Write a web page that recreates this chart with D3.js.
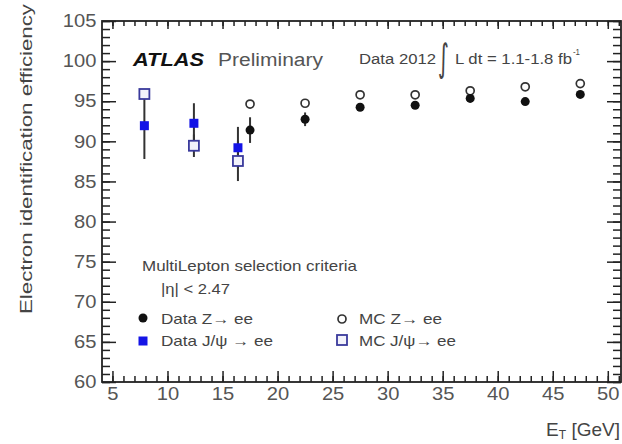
<!DOCTYPE html>
<html>
<head>
<meta charset="utf-8">
<script src="https://cdn.jsdelivr.net/npm/d3@7/dist/d3.min.js"></script>
<style>
  html, body { margin: 0; padding: 0; background: #fff; }
  svg { display: block; font-family: "Liberation Sans", Arial, sans-serif; }
</style>
</head>
<body>
<svg id="chart" width="622" height="444"></svg>
<script>
// Electron identification efficiency vs E_T (ATLAS 2012)
const zeeEt        = [17.5, 22.5, 27.5, 32.5, 37.5, 42.5, 47.5];
const zeeData      = [91.4, 92.75, 94.25, 94.5, 95.35, 94.95, 95.85];
const zeeDataErr   = [1.6, 0.85, 0.4, 0.35, 0.35, 0.35, 0.35];
const zeeMC        = [94.65, 94.75, 95.8, 95.8, 96.3, 96.8, 97.2];

const jpsiEt       = [7.9, 12.4, 16.4];
const jpsiData     = [91.95, 92.25, 89.2];
const jpsiDataErr  = [4.15, 2.5, 2.6];
const jpsiMC       = [95.9, 89.45, 87.55];
const jpsiMCErr    = [0.4, 1.4, 2.5];

const xMajorTicks  = [5, 10, 15, 20, 25, 30, 35, 40, 45, 50];
const yMajorTicks  = [60, 65, 70, 75, 80, 85, 90, 95, 100, 105];

const svg = d3.select("#chart");
const L = 102, R = 621, T = 21, B = 382;

const x = d3.scaleLinear().domain([4.05, 51.2]).range([L, R]);
const y = d3.scaleLinear().domain([60, 105]).range([B, T]);

const xMinor = d3.range(5, 52, 1);
const yMinor = d3.range(60, 106, 1);

// text helper with optional fixed width
function txt(parent, px, py, str, size, o = {}) {
  const t = parent.append("text")
    .attr("x", px).attr("y", py)
    .attr("font-size", size)
    .attr("fill", o.fill || "#444")
    .attr("text-anchor", o.anchor || "start");
  if (o.weight) t.attr("font-weight", o.weight);
  if (o.style) t.attr("font-style", o.style);
  if (o.family) t.attr("font-family", o.family);
  if (o.len) t.attr("textLength", o.len).attr("lengthAdjust", "spacingAndGlyphs");
  t.text(str);
  return t;
}

// frame
svg.append("rect").attr("x", L).attr("y", T).attr("width", R - L).attr("height", B - T)
  .attr("fill", "none").attr("stroke", "#222").attr("stroke-width", 1.8);

function tickGroup(axisFn, scale, values, size, transform, withLabels) {
  const ax = axisFn(scale).tickValues(values).tickSize(-size).tickSizeOuter(0);
  if (!withLabels) ax.tickFormat("");
  const g = svg.append("g").attr("transform", transform).call(ax);
  g.select(".domain").remove();
  g.selectAll(".tick line").attr("stroke", "#222").attr("stroke-width", 1.5);
  return g;
}

// minor ticks
tickGroup(d3.axisBottom, x, xMinor, 6, `translate(0,${B})`, false);
tickGroup(d3.axisTop, x, xMinor, 5, `translate(0,${T})`, false);
tickGroup(d3.axisLeft, y, yMinor, 8, `translate(${L},0)`, false);
tickGroup(d3.axisRight, y, yMinor, 8, `translate(${R},0)`, false);

// major ticks
const gx = tickGroup(d3.axisBottom, x, xMajorTicks, 11, `translate(0,${B})`, true);
gx.call(g => g.selectAll(".tick text")
  .attr("font-size", 18).attr("fill", "#555").attr("font-family", "Liberation Sans, Arial, sans-serif")
  .attr("y", 5).attr("transform", "scale(1.12,1)"));
tickGroup(d3.axisTop, x, xMajorTicks, 8, `translate(0,${T})`, false);
const gy = tickGroup(d3.axisLeft, y, yMajorTicks, 14, `translate(${L},0)`, true);
gy.call(g => g.selectAll(".tick text")
  .attr("font-size", 18).attr("fill", "#555").attr("font-family", "Liberation Sans, Arial, sans-serif")
  .attr("x", -5).attr("transform", "scale(1.12,1)"));
tickGroup(d3.axisRight, y, yMajorTicks, 14, `translate(${R},0)`, false);

// axis titles
svg.append("text")
  .attr("transform", "translate(32,159) rotate(-90)")
  .attr("text-anchor", "middle").attr("font-size", 17).attr("fill", "#444")
  .attr("textLength", 310).attr("lengthAdjust", "spacingAndGlyphs")
  .text("Electron identification efficiency");

const xt = svg.append("text").attr("x", 620).attr("y", 436)
  .attr("text-anchor", "end").attr("font-size", 19).attr("fill", "#444");
xt.append("tspan").text("E");
xt.append("tspan").attr("font-size", 12).attr("dy", 3).text("T");
xt.append("tspan").attr("dy", -3).text(" [GeV]");

// header
txt(svg, 133, 66, "ATLAS", 18, { weight: "bold", style: "italic", fill: "#111", len: 71 });
txt(svg, 218, 66, "Preliminary", 18, { fill: "#555", len: 105 });
txt(svg, 359, 64, "Data 2012", 14, { len: 77 });
txt(svg, 438, 71, "∫", 38, { family: "DejaVu Sans", len: 11 });
txt(svg, 455, 64, "L dt = 1.1-1.8 fb", 14, { len: 117 });
txt(svg, 573, 55, "-1", 9, { len: 7 });

// error bars
const bars = svg.append("g").attr("stroke", "#333").attr("stroke-width", 2);
bars.selectAll("line.zd").data(zeeEt).join("line")
  .attr("x1", d => x(d)).attr("x2", d => x(d))
  .attr("y1", (d, i) => y(zeeData[i] - zeeDataErr[i]))
  .attr("y2", (d, i) => y(zeeData[i] + zeeDataErr[i]));
bars.selectAll("line.jd").data(jpsiEt).join("line")
  .attr("x1", d => x(d)).attr("x2", d => x(d))
  .attr("y1", (d, i) => y(jpsiData[i] - jpsiDataErr[i]))
  .attr("y2", (d, i) => y(jpsiData[i] + jpsiDataErr[i]));
bars.selectAll("line.jm").data(jpsiEt).join("line")
  .attr("x1", d => x(d)).attr("x2", d => x(d))
  .attr("y1", (d, i) => y(jpsiMC[i] - jpsiMCErr[i]))
  .attr("y2", (d, i) => y(jpsiMC[i] + jpsiMCErr[i]));

// markers
const blue = "#1414e6", navy = "#3a3a9c";
function openCircle(g, cx, cy) {
  g.append("circle").attr("cx", cx).attr("cy", cy).attr("r", 4)
    .attr("fill", "#fff").attr("stroke", "#333").attr("stroke-width", 1.7);
}
function filledCircle(g, cx, cy) {
  g.append("circle").attr("cx", cx).attr("cy", cy).attr("r", 4.5).attr("fill", "#111");
}
function openSquare(g, cx, cy) {
  g.append("rect").attr("x", cx - 5).attr("y", cy - 5).attr("width", 10).attr("height", 10)
    .attr("fill", "#f2f2fb").attr("stroke", navy).attr("stroke-width", 1.8);
}
function filledSquare(g, cx, cy) {
  g.append("rect").attr("x", cx - 4.5).attr("y", cy - 4.5).attr("width", 9).attr("height", 9)
    .attr("fill", blue);
}

const pts = svg.append("g");
zeeEt.forEach((e, i) => openCircle(pts, x(e), y(zeeMC[i])));
zeeEt.forEach((e, i) => filledCircle(pts, x(e), y(zeeData[i])));
jpsiEt.forEach((e, i) => filledSquare(pts, x(e), y(jpsiData[i])));
jpsiEt.forEach((e, i) => openSquare(pts, x(e), y(jpsiMC[i])));

// legend
const lg = svg.append("g");
txt(lg, 142, 271, "MultiLepton selection criteria", 15, { len: 215 });
txt(lg, 161, 294, "|η| < 2.47", 15, { len: 69 });
filledCircle(lg, 143, 318);
txt(lg, 161, 324, "Data Z→ ee", 15, { len: 92 });
filledSquare(lg, 143, 341);
txt(lg, 161, 346, "Data J/ψ → ee", 15, { len: 112 });
openCircle(lg, 342, 319);
txt(lg, 359, 324, "MC Z→ ee", 15, { len: 83 });
openSquare(lg, 342, 340);
txt(lg, 359, 346, "MC J/ψ→ ee", 15, { len: 97 });
</script>
</body>
</html>
